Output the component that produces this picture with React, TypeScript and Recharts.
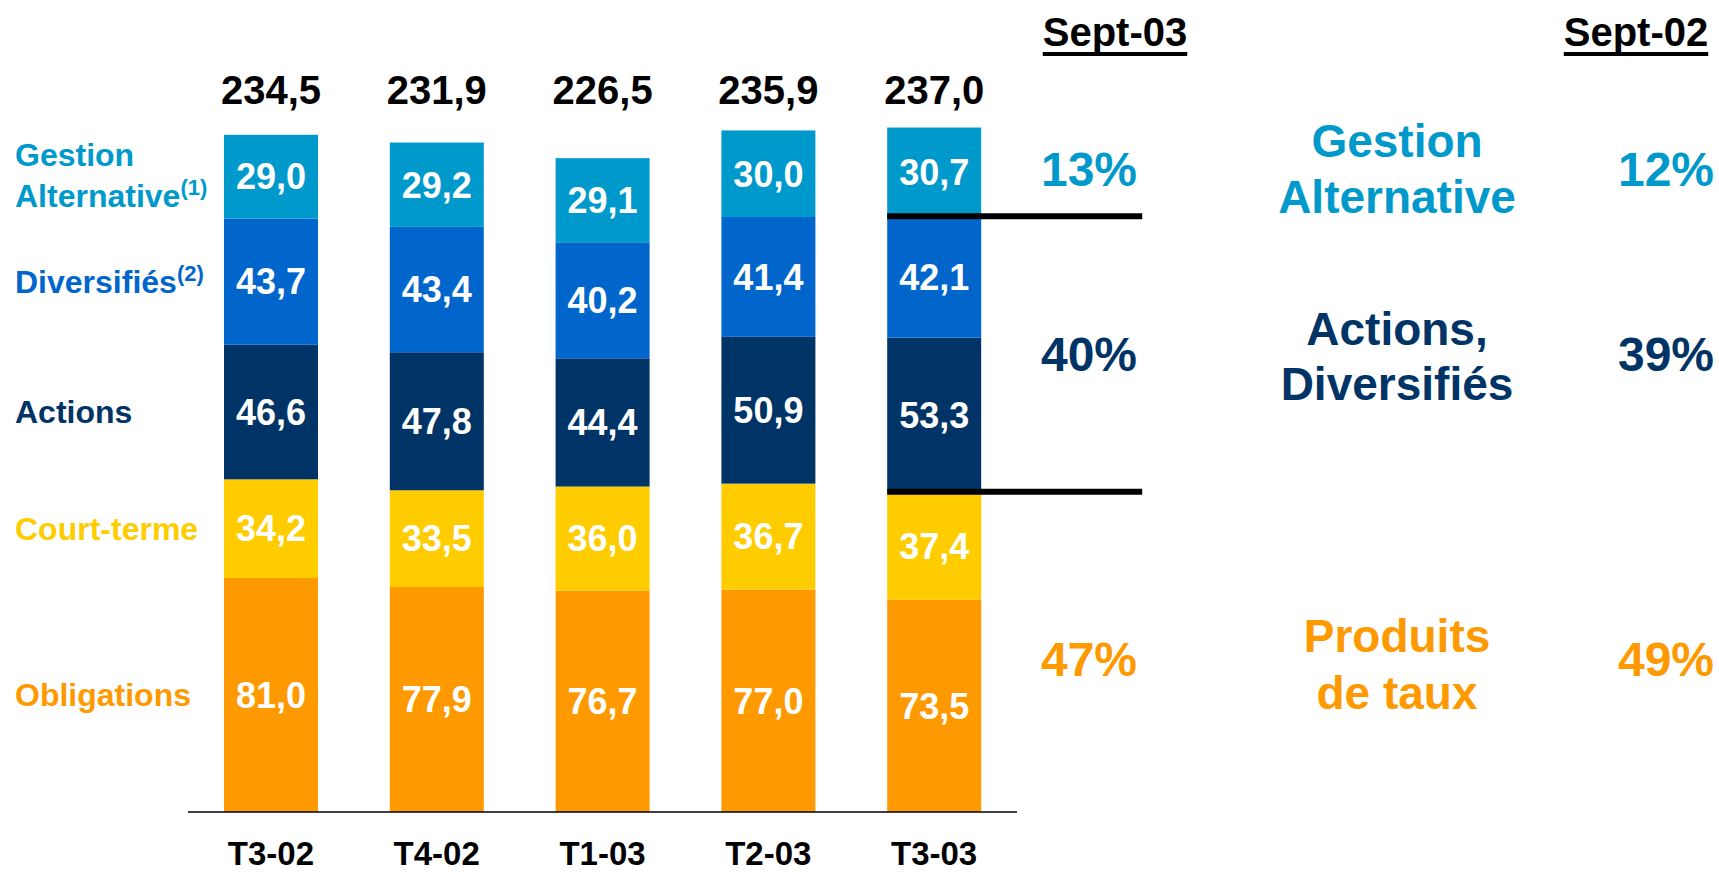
import React from "react"
import { BarChart, Bar, XAxis, YAxis, LabelList } from "recharts"

// quarters
const categories = ["T3-02", "T4-02", "T1-03", "T2-03", "T3-03"]

// encours par classe d'actifs (Md€)
const obligations = [81.0, 77.9, 76.7, 77.0, 73.5]
const courtTerme = [34.2, 33.5, 36.0, 36.7, 37.4]
const actions = [46.6, 47.8, 44.4, 50.9, 53.3]
const diversifies = [43.7, 43.4, 40.2, 41.4, 42.1]
const gestionAlt = [29.0, 29.2, 29.1, 30.0, 30.7]
const totals = [234.5, 231.9, 226.5, 235.9, 237.0]

// right hand breakdown
const groupNames = [["Gestion", "Alternative"], ["Actions,", "Diversifiés"], ["Produits", "de taux"]]
const sept03 = ["13%", "40%", "47%"]
const sept02 = ["12%", "39%", "49%"]

const FONT = '"Liberation Sans", Arial, Helvetica, sans-serif'
const C_ALT = "#0099CC"
const C_DIV = "#0066CC"
const C_ACT = "#003366"
const C_CT = "#FFCC00"
const C_OBL = "#FF9900"

const data = categories.map((cat, i) => ({
  cat,
  obligations: obligations[i],
  courtTerme: courtTerme[i],
  actions: actions[i],
  diversifies: diversifies[i],
  gestionAlt: gestionAlt[i],
  total: totals[i],
}))

const fmt = (v: any) => Number(v).toFixed(1).replace(".", ",")

// rect + black separator line under the segment of the last bar
const withLine = (lineLen: number) => (props: any) => {
  const { x, y, width, height, fill, index } = props
  return (
    <g>
      <rect x={x} y={y} width={width} height={height} fill={fill} />
      {index === categories.length - 1 && (
        <line x1={x} x2={x + lineLen} y1={y + height} y2={y + height} stroke="#000" strokeWidth={6} />
      )}
    </g>
  )
}

// series name written left of the first bar
const sideLabel = (lines: string[], color: string, sup?: string) => (props: any) => {
  if (props.index !== 0) return null
  const vb = props.viewBox ?? props
  const mid = vb.y + vb.height / 2
  const first = lines.length === 1 ? mid + 11 : mid - 11
  return (
    <text x={15} y={first} fill={color} fontSize={32} fontWeight={700} fontFamily={FONT}>
      {lines.map((l, i) => (
        <tspan key={i} x={15} dy={i === 0 ? 0 : 41}>
          {l}
          {i === lines.length - 1 && sup && (
            <tspan fontSize={22} dy={-12}>
              {sup}
            </tspan>
          )}
        </tspan>
      ))}
    </text>
  )
}

// totals sit on one common row above the bars
const totalLabel = (props: any) => {
  const vb = props.viewBox ?? props
  return (
    <text
      x={vb.x + vb.width / 2}
      y={104}
      textAnchor="middle"
      fill="#000"
      fontSize={40}
      fontWeight={700}
      fontFamily={FONT}
    >
      {fmt(props.value)}
    </text>
  )
}

const valueLabel = { fill: "#fff", fontSize: 36, fontWeight: 700, fontFamily: FONT }

const rowY = [170, 355, 660]
const nameY = [[141, 197], [329, 384], [636, 693]]
const rowColors = [C_ALT, C_ACT, C_OBL]

export default function App() {
  return (
    <div style={{ position: "absolute", left: 0, top: 0, width: 1719, height: 873, background: "#fff", fontFamily: FONT }}>
      <BarChart
        width={1719}
        height={873}
        data={data}
        margin={{ top: 90, right: 702, left: 188, bottom: 0 }}
        barSize={94}
      >
        <XAxis
          dataKey="cat"
          height={61}
          axisLine={{ stroke: "#000", strokeWidth: 1.5 }}
          tickLine={false}
          tickSize={0}
          tickMargin={30}
          tick={{ fill: "#000", fontSize: 33, fontWeight: 700, fontFamily: FONT }}
          interval={0}
        />
        <YAxis hide domain={[0, 250]} />
        <Bar dataKey="obligations" stackId="a" fill={C_OBL} isAnimationActive={false}>
          <LabelList dataKey="obligations" position="center" formatter={fmt} {...valueLabel} />
          <LabelList dataKey="obligations" content={sideLabel(["Obligations"], C_OBL)} />
        </Bar>
        <Bar dataKey="courtTerme" stackId="a" fill={C_CT} isAnimationActive={false}>
          <LabelList dataKey="courtTerme" position="center" formatter={fmt} {...valueLabel} />
          <LabelList dataKey="courtTerme" content={sideLabel(["Court-terme"], C_CT)} />
        </Bar>
        <Bar dataKey="actions" stackId="a" fill={C_ACT} isAnimationActive={false} shape={withLine(255)}>
          <LabelList dataKey="actions" position="center" formatter={fmt} {...valueLabel} />
          <LabelList dataKey="actions" content={sideLabel(["Actions"], C_ACT)} />
        </Bar>
        <Bar dataKey="diversifies" stackId="a" fill={C_DIV} isAnimationActive={false}>
          <LabelList dataKey="diversifies" position="center" formatter={fmt} {...valueLabel} />
          <LabelList dataKey="diversifies" content={sideLabel(["Diversifiés"], C_DIV, "(2)")} />
        </Bar>
        <Bar dataKey="gestionAlt" stackId="a" fill={C_ALT} isAnimationActive={false} shape={withLine(255)}>
          <LabelList dataKey="gestionAlt" position="center" formatter={fmt} {...valueLabel} />
          <LabelList dataKey="gestionAlt" content={sideLabel(["Gestion", "Alternative"], C_ALT, "(1)")} />
          <LabelList dataKey="total" content={totalLabel} />
        </Bar>
      </BarChart>

      {/* right hand summary */}
      {[
        { text: "Sept-03", x: 1115 },
        { text: "Sept-02", x: 1636 },
      ].map((h) => (
        <div
          key={h.text}
          style={{
            position: "absolute",
            left: h.x,
            top: 32,
            transform: "translate(-50%, -50%)",
            fontSize: 40,
            fontWeight: 700,
            lineHeight: 1,
            color: "#000",
            textDecoration: "underline",
            textDecorationThickness: 4,
            textUnderlineOffset: 6,
            textDecorationSkipInk: "none",
            whiteSpace: "nowrap",
          }}
        >
          {h.text}
        </div>
      ))}
      {sept03.map((p, i) => (
        <div
          key={"a" + i}
          style={{
            position: "absolute",
            left: 1089,
            top: rowY[i],
            transform: "translate(-50%, -50%)",
            fontSize: 48,
            fontWeight: 700,
            lineHeight: 1,
            color: rowColors[i],
          }}
        >
          {p}
        </div>
      ))}
      {sept02.map((p, i) => (
        <div
          key={"b" + i}
          style={{
            position: "absolute",
            left: 1666,
            top: rowY[i],
            transform: "translate(-50%, -50%)",
            fontSize: 48,
            fontWeight: 700,
            lineHeight: 1,
            color: rowColors[i],
          }}
        >
          {p}
        </div>
      ))}
      {groupNames.map((g, i) =>
        g.map((line, j) => (
          <div
            key={"g" + i + j}
            style={{
              position: "absolute",
              left: 1397,
              top: nameY[i][j],
              transform: "translate(-50%, -50%)",
              fontSize: 46,
              fontWeight: 700,
              lineHeight: 1,
              color: rowColors[i],
              whiteSpace: "nowrap",
            }}
          >
            {line}
          </div>
        ))
      )}
    </div>
  )
}
